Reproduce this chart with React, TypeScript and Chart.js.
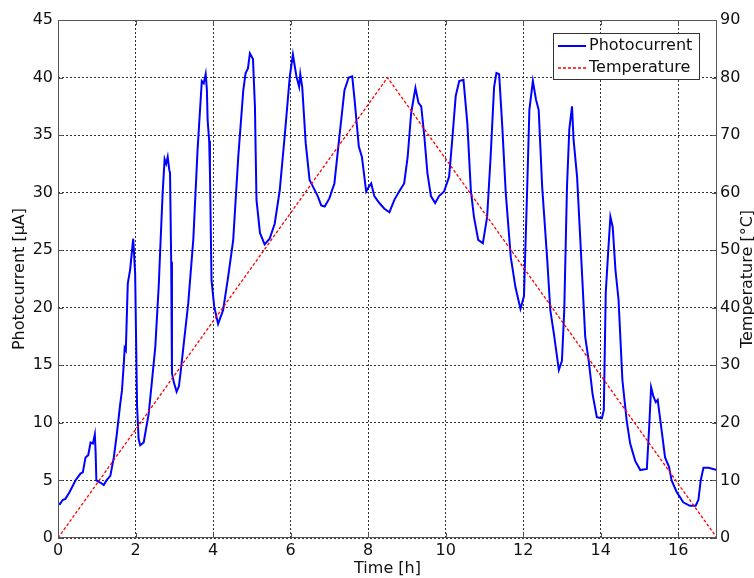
import React, { useEffect, useRef } from "react";
import { Chart, registerables } from "chart.js";

Chart.register(...registerables);

// Measured photocurrent over the run
const timeH = [
  0.0, 0.05, 0.12, 0.19, 0.3, 0.45, 0.58, 0.64, 0.71, 0.78, 0.84, 0.9, 0.95, 0.97, 0.99,
  1.1, 1.18, 1.25, 1.35, 1.44, 1.52, 1.6, 1.65, 1.7, 1.72, 1.75, 1.8, 1.86, 1.94, 1.99,
  2.02, 2.04, 2.08, 2.12, 2.21, 2.34, 2.42, 2.51, 2.6, 2.64, 2.7, 2.75, 2.79, 2.83, 2.87,
  2.89, 2.92, 2.94, 2.99, 3.06, 3.12, 3.17, 3.36, 3.49, 3.6, 3.71, 3.76, 3.81, 3.84, 3.86,
  3.9, 3.92, 3.96, 4.03, 4.13, 4.26, 4.39, 4.52, 4.65, 4.78, 4.84, 4.9, 4.95, 5.03, 5.08,
  5.12, 5.21, 5.33, 5.46, 5.59, 5.72, 5.85, 5.98, 6.06, 6.15, 6.22, 6.25, 6.3, 6.39, 6.49,
  6.58, 6.7, 6.79, 6.88, 7.0, 7.13, 7.26, 7.39, 7.5, 7.59, 7.65, 7.76, 7.84, 7.95, 8.0,
  8.08, 8.16, 8.29, 8.42, 8.55, 8.68, 8.8, 8.93, 9.02, 9.11, 9.22, 9.3, 9.37, 9.45, 9.53,
  9.62, 9.73, 9.83, 9.96, 10.09, 10.17, 10.26, 10.35, 10.46, 10.56, 10.65, 10.73, 10.84, 10.96, 11.07,
  11.16, 11.25, 11.31, 11.38, 11.46, 11.55, 11.68, 11.8, 11.93, 12.02, 12.1, 12.16, 12.25, 12.33, 12.4,
  12.49, 12.62, 12.7, 12.79, 12.92, 13.0, 13.06, 13.13, 13.19, 13.26, 13.3, 13.39, 13.5, 13.6, 13.69,
  13.79, 13.9, 14.03, 14.08, 14.13, 14.19, 14.25, 14.31, 14.38, 14.46, 14.56, 14.67, 14.76, 14.89, 15.02,
  15.19, 15.25, 15.3, 15.36, 15.42, 15.47, 15.57, 15.66, 15.76, 15.83, 15.96, 16.13, 16.3, 16.45, 16.52,
  16.58, 16.65, 16.78, 17.0,
];

const photocurrentUA = [
  3.0, 2.95, 3.3, 3.4, 4.0, 5.0, 5.6, 5.7, 7.0, 7.2, 8.3, 8.2, 9.0, 7.5, 5.0,
  4.8, 4.6, 5.0, 5.4, 7.0, 9.1, 11.5, 12.8, 15.3, 16.5, 16.3, 22.1, 23.3, 26.0, 23.0,
  16.0, 11.4, 8.6, 8.05, 8.3, 10.8, 13.5, 16.6, 22.0, 25.3, 30.0, 32.9, 32.5, 33.1, 32.0,
  31.7, 24.0, 14.3, 13.5, 12.7, 13.2, 14.6, 20.4, 25.9, 33.7, 39.7, 39.5, 40.3, 39.0, 36.3,
  34.5, 31.7, 22.4, 20.1, 18.6, 19.8, 22.7, 25.9, 33.1, 38.9, 40.4, 40.8, 42.1, 41.6, 37.5,
  29.4, 26.5, 25.5, 26.0, 27.3, 30.2, 35.0, 40.1, 42.0, 40.1, 39.2, 40.3, 39.2, 34.3, 31.1,
  30.5, 29.7, 28.9, 28.8, 29.5, 30.8, 34.9, 38.9, 40.0, 40.1, 38.1, 34.0, 33.1, 30.1, 30.4,
  30.8, 29.7, 29.1, 28.6, 28.3, 29.4, 30.1, 30.8, 33.1, 36.9, 39.1, 37.8, 37.5, 34.9, 31.7,
  29.7, 29.1, 29.7, 30.1, 31.4, 34.6, 38.4, 39.7, 39.8, 36.0, 30.2, 27.9, 25.9, 25.6, 27.9,
  33.1, 39.2, 40.4, 40.3, 35.8, 30.0, 24.4, 21.8, 19.9, 21.0, 30.0, 37.2, 39.7, 38.1, 37.2,
  30.5, 24.2, 19.8, 17.8, 14.6, 15.4, 19.8, 30.5, 35.5, 37.5, 34.6, 31.4, 24.2, 17.5, 15.4,
  12.5, 10.5, 10.4, 11.1, 21.3, 24.7, 27.9, 27.0, 23.3, 20.7, 13.7, 10.2, 8.2, 6.7, 5.9,
  6.0, 9.6, 13.1, 12.3, 11.8, 12.0, 9.4, 7.0, 6.2, 5.0, 4.0, 3.1, 2.8, 2.8, 3.3,
  5.0, 6.1, 6.1, 5.9,
];

// Temperature ramp: up to the set point, then back down
const tempTimeH = [0, 8.5, 17];
const temperatureC = [0, 80, 0];

const xTicks = [0, 2, 4, 6, 8, 10, 12, 14, 16];
const leftTicks = [0, 5, 10, 15, 20, 25, 30, 35, 40, 45];
const rightTicks = [0, 10, 20, 30, 40, 50, 60, 70, 80, 90];

const seriesNames = ["Photocurrent", "Temperature"];
const xTitle = "Time [h]";
const leftTitle = "Photocurrent [\u00b5A]";
const rightTitle = "Temperature [\u00b0C]";

const FONT = "DejaVu Sans";
const BLUE = "#0000ff";
const RED = "#ff0000";
const FRAME = "#555555";
const TEXT = "#111111";

// Frame with inward tick marks, the rotated right-hand title and the boxed legend
const decorations = {
  id: "decorations",
  afterDraw(chart: any) {
    const { ctx, chartArea, scales } = chart;
    const { left, right, top, bottom } = chartArea;
    ctx.save();

    // axes box
    ctx.strokeStyle = FRAME;
    ctx.lineWidth = 1;
    ctx.setLineDash([]);
    ctx.strokeRect(left + 0.5, top + 0.5, right - left - 1, bottom - top - 1);

    // inward ticks
    const tl = 5;
    ctx.beginPath();
    xTicks.forEach((v) => {
      const x = Math.round(scales.x.getPixelForValue(v)) + 0.5;
      ctx.moveTo(x, bottom);
      ctx.lineTo(x, bottom - tl);
      ctx.moveTo(x, top);
      ctx.lineTo(x, top + tl);
    });
    leftTicks.forEach((v) => {
      const y = Math.round(scales.y.getPixelForValue(v)) + 0.5;
      ctx.moveTo(left, y);
      ctx.lineTo(left + tl, y);
    });
    rightTicks.forEach((v) => {
      const y = Math.round(scales.y1.getPixelForValue(v)) + 0.5;
      ctx.moveTo(right, y);
      ctx.lineTo(right - tl, y);
    });
    ctx.stroke();

    // right axis title, reading bottom to top
    ctx.font = `16px "${FONT}"`;
    ctx.fillStyle = TEXT;
    ctx.textAlign = "center";
    ctx.textBaseline = "middle";
    ctx.save();
    ctx.translate(748, (top + bottom) / 2);
    ctx.rotate(-Math.PI / 2);
    ctx.fillText(rightTitle, 0, 0);
    ctx.restore();

    // legend
    const bx = 553.5, by = 33.5, bw = 146, bh = 46;
    ctx.fillStyle = "#ffffff";
    ctx.fillRect(bx, by, bw, bh);
    ctx.strokeStyle = "#333333";
    ctx.lineWidth = 1;
    ctx.strokeRect(bx, by, bw, bh);

    const rows = [
      { label: seriesNames[0], color: BLUE, dash: [] as number[], width: 2, y: 46 },
      { label: seriesNames[1], color: RED, dash: [3, 2], width: 1.3, y: 68 },
    ];
    rows.forEach((r) => {
      ctx.beginPath();
      ctx.strokeStyle = r.color;
      ctx.lineWidth = r.width;
      ctx.setLineDash(r.dash);
      ctx.moveTo(558, r.y);
      ctx.lineTo(586, r.y);
      ctx.stroke();
      ctx.setLineDash([]);
      ctx.fillStyle = TEXT;
      ctx.textAlign = "left";
      ctx.textBaseline = "middle";
      ctx.fillText(r.label, 589, r.y);
    });

    ctx.restore();
  },
};

export default function App() {
  const canvasRef = useRef<HTMLCanvasElement | null>(null);

  useEffect(() => {
    const canvas = canvasRef.current;
    if (!canvas) return;

    const tickFont = { family: FONT, size: 16 };
    const gridOpts = { color: "#333333", lineWidth: 1, drawTicks: false };
    const dashed = { display: false, dash: [2, 2] };

    const chart = new Chart(canvas, {
      type: "line",
      data: {
        datasets: [
          {
            label: seriesNames[1],
            data: tempTimeH.map((t, i) => ({ x: t, y: temperatureC[i] })),
            yAxisID: "y1",
            borderColor: RED,
            borderWidth: 1.3,
            borderDash: [3, 2],
            pointRadius: 0,
            tension: 0,
            fill: false,
            order: 0,
          },
          {
            label: seriesNames[0],
            data: timeH.map((t, i) => ({ x: t, y: photocurrentUA[i] })),
            yAxisID: "y",
            borderColor: BLUE,
            borderWidth: 2,
            pointRadius: 0,
            tension: 0,
            fill: false,
            order: 1,
          },
        ],
      },
      options: {
        responsive: false,
        animation: false,
        devicePixelRatio: 1,
        layout: { padding: { top: 20, left: 0, right: 0, bottom: 0 } },
        plugins: {
          legend: { display: false },
          tooltip: { enabled: false },
        },
        scales: {
          x: {
            type: "linear",
            min: 0,
            max: 17,
            afterBuildTicks: (s: any) => {
              s.ticks = xTicks.map((v) => ({ value: v }));
            },
            afterFit: (s: any) => {
              s.height = 40;
            },
            grid: gridOpts,
            border: dashed,
            ticks: { font: tickFont, color: TEXT, padding: 3, maxRotation: 0 },
            title: {
              display: true,
              text: xTitle,
              font: tickFont,
              color: TEXT,
              padding: { top: 0, bottom: 0 },
            },
          },
          y: {
            type: "linear",
            position: "left",
            min: 0,
            max: 45,
            afterBuildTicks: (s: any) => {
              s.ticks = leftTicks.map((v) => ({ value: v }));
            },
            afterFit: (s: any) => {
              s.width = 58;
            },
            grid: gridOpts,
            border: dashed,
            ticks: { font: tickFont, color: TEXT, padding: 5 },
            title: {
              display: true,
              text: leftTitle,
              font: tickFont,
              color: TEXT,
              padding: { top: 10, bottom: 0 },
            },
          },
          y1: {
            type: "linear",
            position: "right",
            min: 0,
            max: 90,
            afterBuildTicks: (s: any) => {
              s.ticks = rightTicks.map((v) => ({ value: v }));
            },
            afterFit: (s: any) => {
              s.width = 37;
            },
            grid: { display: false, drawTicks: false },
            border: { display: false },
            ticks: { font: tickFont, color: TEXT, padding: 3 },
          },
        },
      },
      plugins: [decorations],
    } as any);

    return () => chart.destroy();
  }, []);

  return (
    <div style={{ position: "fixed", left: 0, top: 0, width: 754, height: 578, background: "#ffffff" }}>
      <canvas ref={canvasRef} width={754} height={578} style={{ width: 754, height: 578, display: "block" }} />
    </div>
  );
}
